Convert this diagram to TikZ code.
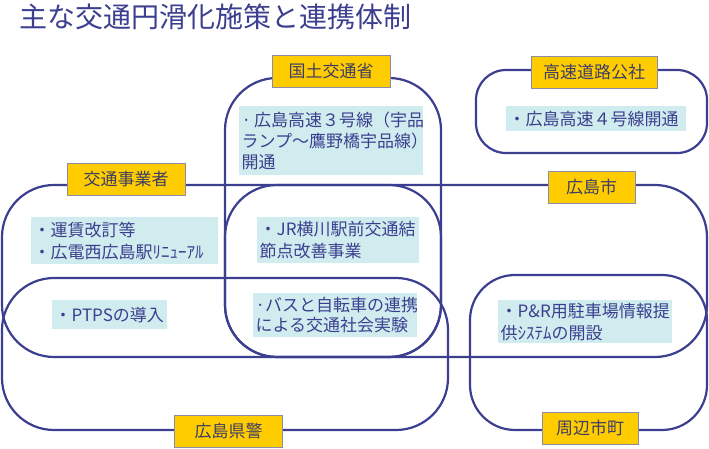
\documentclass[tikz,border=0pt]{standalone}
\usepackage{fontspec}
\setmainfont{Noto Sans CJK JP}
\usepackage{tikz}
\usetikzlibrary{positioning}

\definecolor{navy}{HTML}{3C3F8F}
\definecolor{gold}{HTML}{FFCC00}
\definecolor{paleblue}{HTML}{D0ECEE}
\definecolor{tagline}{HTML}{8C8CAA}
\definecolor{tagtext}{HTML}{3E3E66}

\tikzset{
  group/.style={draw=navy, line width=2.2pt, rounded corners=52pt, inner sep=0pt},
  tag/.style={draw=tagline, line width=0.8pt, fill=gold, text=tagtext, minimum height=32pt,
              inner sep=0pt, font=\fontsize{17}{19}\selectfont},
  note/.style={fill=paleblue, text=navy, anchor=north west, align=left, inner xsep=2.5pt,
               inner ysep=2pt, font=\fontsize{17}{22}\selectfont},
}

\begin{document}
\begin{tikzpicture}[x=1pt, y=1pt]
    \useasboundingbox (0,0) rectangle (709,449);

    % Title
    \node [anchor=base west, inner sep=0pt, text=navy, font=\fontsize{28}{30}\selectfont]
          (title) at (19,421) {主な交通円滑化施策と連携体制};

    % Groups {mlit, hwy, ops, city, police, towns}
    \node [group, minimum width=216pt, minimum height=279pt]                       (mlit)   at (333,231.5)  {};
    \node [group, minimum width=231pt, minimum height=83pt, rounded corners=30pt]  (hwy)    at (591.5,337.5) {};
    \node [group, minimum width=439pt, minimum height=172pt]                       (ops)    at (221.5,178)  {};
    \node [group, minimum width=482pt, minimum height=172pt]                       (city)   at (466,178)    {};
    \node [group, minimum width=446pt, minimum height=152pt]                       (police) at (225,95)     {};
    \node [group, minimum width=237pt, minimum height=155pt, rounded corners=45pt] (towns)  at (588.5,96.5) {};

    % Tags
    \node [tag, minimum width=118pt] (mlitTag)   at (331,377.5) {国土交通省};
    \node [tag, minimum width=126pt] (hwyTag)    at (594,377)   {高速道路公社};
    \node [tag, minimum width=118pt] (opsTag)    at (126,270)   {交通事業者};
    \node [tag, minimum width=87pt]  (cityTag)   at (591.5,262) {広島市};
    \node [tag, minimum width=108pt] (policeTag) at (228.5,18)  {広島県警};
    \node [tag, minimum width=96pt]  (townsTag)  at (590,21)    {周辺市町};

    % Measures
    \node [note, text width=179pt, minimum height=69pt, font=\fontsize{17}{21}\selectfont]
          (route3)  at (239,343) {·\,広島高速３号線（宇品\\ランプ～鷹野橋宇品線）\\開通};
    \node [note, text width=175pt, minimum height=25pt] (route4)  at (506,343) {・広島高速４号線開通};
    \node [note, text width=182pt, minimum height=47pt] (fare)    at (31,232)  {・運賃改訂等\\・広電西広島駅ﾘﾆｭｰｱﾙ};
    \node [note, text width=157pt, minimum height=46pt] (yokogawa) at (257,232) {・JR横川駅前交通結\\節点改善事業};
    \node [note, text width=159pt, minimum height=44pt, font=\fontsize{17}{20}\selectfont]
          (bike)    at (253,156) {·バスと自転車の連携\\による交通社会実験};
    \node [note, text width=110pt, minimum height=29pt] (ptps)    at (52,149)  {・PTPSの導入};
    \node [note, text width=169pt, minimum height=43pt] (parking) at (498,149) {・P\&R用駐車場情報提\\供ｼｽﾃﾑの開設};

\end{tikzpicture}
\end{document}
